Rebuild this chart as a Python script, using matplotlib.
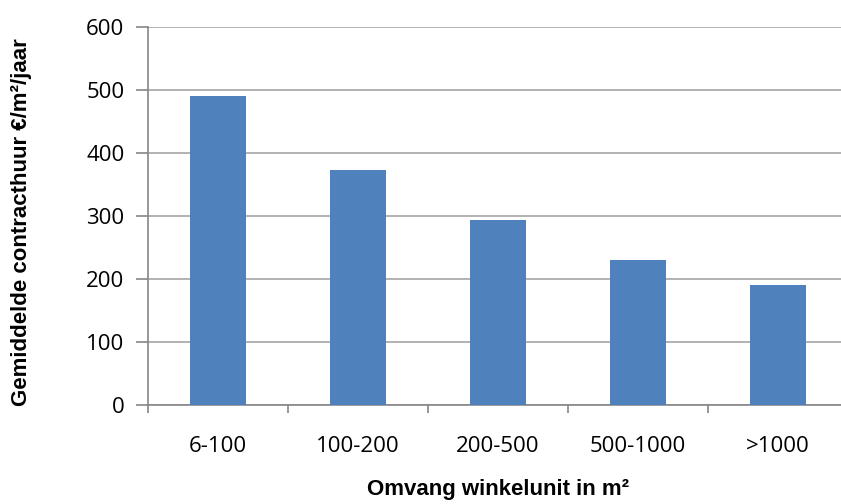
import numpy as np
import matplotlib
matplotlib.use("Agg")
import matplotlib.pyplot as plt

# average contract rent per shop size class
categories = ["6-100", "100-200", "200-500", "500-1000", ">1000"]
rent = [490, 373, 294, 230, 191]

bar_color = "#4F81BD"
grid_color = "#A6A6A6"
axis_color = "#868686"

fig = plt.figure(figsize=(8.41, 5.04), dpi=100)
ax = fig.add_axes([148 / 841, 99 / 504, 700 / 841, 378 / 504])

x = np.arange(len(categories))
ax.bar(x, rent, width=0.4, color=bar_color, zorder=3)

ax.set_xlim(-0.5, len(categories) - 0.5)
ax.set_ylim(0, 600)
ax.set_yticks(np.arange(0, 601, 100))
ax.yaxis.grid(True, color=grid_color, linewidth=1.2, zorder=0)

# category labels sit between the boundary tick marks
ax.set_xticks(x)
ax.set_xticklabels(categories)
ax.set_xticks(np.arange(-0.5, len(categories)), minor=True)
ax.tick_params(axis="x", which="major", length=0, pad=22)
ax.tick_params(axis="x", which="minor", length=6, width=1.2, color=axis_color, direction="out")
ax.tick_params(axis="y", length=9, width=1.2, color=axis_color, pad=8)

for lbl in ax.get_xticklabels() + ax.get_yticklabels():
    lbl.set_fontfamily(["Open Sans", "DejaVu Sans"])
    lbl.set_fontsize(16)
    lbl.set_color("#000000")

for side in ["top", "right"]:
    ax.spines[side].set_visible(False)
for side in ["left", "bottom"]:
    ax.spines[side].set_color(axis_color)
    ax.spines[side].set_linewidth(1.2)

label_font = dict(family=["Liberation Sans Narrow", "Liberation Sans", "DejaVu Sans"],
                  fontsize=16, fontweight="bold")
fig.text(498 / 841, 1 - 495 / 504, "Omvang winkelunit in m²", ha="center", va="baseline", **label_font)
fig.text(22 / 841, 1 - 222 / 504, "Gemiddelde contracthuur €/m²/jaar", ha="center", va="center",
         rotation=90, **label_font)

fig.savefig("out.png", dpi=100)
